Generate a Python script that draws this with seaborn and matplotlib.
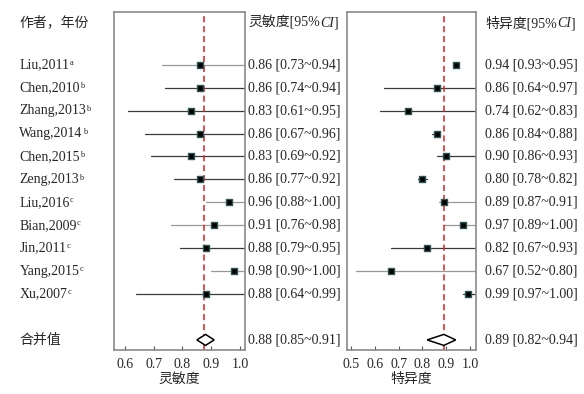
import matplotlib
matplotlib.use("Agg")
import matplotlib.pyplot as plt
import seaborn as sns
import pandas as pd

# study labels and superscript group
studies = ["Liu,2011", "Chen,2010", "Zhang,2013", "Wang,2014", "Chen,2015", "Zeng,2013",
           "Liu,2016", "Bian,2009", "Jin,2011", "Yang,2015", "Xu,2007"]
groups = ["a", "b", "b", "b", "b", "b", "c", "c", "c", "c", "c"]

# sensitivity and 95% CI
sens = [0.86, 0.86, 0.83, 0.86, 0.83, 0.86, 0.96, 0.91, 0.88, 0.98, 0.88]
sens_lo = [0.73, 0.74, 0.61, 0.67, 0.69, 0.77, 0.88, 0.76, 0.79, 0.90, 0.64]
sens_hi = [0.94, 0.94, 0.95, 0.96, 0.92, 0.92, 1.00, 0.98, 0.95, 1.00, 0.99]
# specificity and 95% CI
spec = [0.94, 0.86, 0.74, 0.86, 0.90, 0.80, 0.89, 0.97, 0.82, 0.67, 0.99]
spec_lo = [0.93, 0.64, 0.62, 0.84, 0.86, 0.78, 0.87, 0.89, 0.67, 0.52, 0.97]
spec_hi = [0.95, 0.97, 0.83, 0.88, 0.93, 0.82, 0.91, 1.00, 0.93, 0.80, 1.00]

# line ends as drawn in the original (many run to the panel edge)
sens_line_end = [1.1] * 11
spec_line_end = [0.95, 1.1, 1.1, 0.87, 1.1, 0.82, 1.1, 1.1, 1.1, 1.1, 1.1]
sens_line_grey = [1, 0, 0, 0, 0, 0, 1, 1, 0, 1, 0]
spec_line_grey = [0, 0, 0, 0, 0, 0, 1, 1, 0, 1, 0]

# pooled estimates
pooled_sens, pooled_sens_lo, pooled_sens_hi = 0.88, 0.85, 0.91
pooled_spec, pooled_spec_lo, pooled_spec_hi = 0.89, 0.82, 0.94
ref_sens, ref_spec = 0.875, 0.89

sens_ticks = [0.6, 0.7, 0.8, 0.9, 1.0]
spec_ticks = [0.5, 0.6, 0.7, 0.8, 0.9, 1.0]

sns.set_theme(style="white")
plt.rcParams["font.family"] = ["Liberation Serif", "Noto Sans CJK SC"]

df = pd.DataFrame({"study": studies, "row": range(len(studies)),
                   "sens": sens, "sens_lo": sens_lo, "sens_hi": sens_hi,
                   "spec": spec, "spec_lo": spec_lo, "spec_hi": spec_hi,
                   "sens_end": sens_line_end, "spec_end": spec_line_end,
                   "sens_grey": sens_line_grey, "spec_grey": spec_line_grey})

fig = plt.figure(figsize=(5.84, 3.94), dpi=100)
ax1 = fig.add_axes([0.195, 0.1117, 0.2245, 0.8578])
ax2 = fig.add_axes([0.5937, 0.1117, 0.2209, 0.8578])

pooled_row = len(studies) + 1
ylim = (pooled_row + 0.44, -2.3)
FS = 10


def panel(ax, col, xlim, ticks, ref, pooled, plo, phi, xlabel):
    for _, r in df.iterrows():
        c = "#9a9a9a" if r[col + "_grey"] else "#3a3a3a"
        ax.plot([r[col + "_lo"], r[col + "_end"]], [r["row"], r["row"]], color=c, lw=0.9, zorder=1)
    sns.scatterplot(data=df, x=col, y="row", ax=ax, marker="s", s=22, color="black",
                    edgecolor="#2f5555", linewidth=1.0, zorder=3, legend=False)
    ax.axvline(ref, color="#d62020", ls=(0, (4, 2.5)), lw=1.1, zorder=2)
    h = 0.24
    ax.fill([plo, pooled, phi, pooled, plo], [pooled_row, pooled_row - h, pooled_row, pooled_row + h, pooled_row],
            facecolor="white", edgecolor="black", lw=1.1, zorder=3)
    ax.set_xlim(*xlim)
    ax.set_ylim(*ylim)
    ax.set_yticks([])
    ax.set_xticks(ticks)
    ax.set_xticklabels([f"{t:.1f}" for t in ticks], fontsize=FS)
    ax.tick_params(axis="x", direction="in", length=3, width=0.8, color="#555555", pad=6, bottom=True)
    ax.set_xlabel(xlabel, fontsize=FS, labelpad=1)
    ax.set_ylabel("")
    for s in ax.spines.values():
        s.set_color("#8a8a8a")
        s.set_linewidth(1.2)


panel(ax1, "sens", (0.562, 1.017), sens_ticks, ref_sens, pooled_sens, pooled_sens_lo, pooled_sens_hi, "灵敏度")
panel(ax2, "spec", (0.482, 1.024), spec_ticks, ref_spec, pooled_spec, pooled_spec_lo, pooled_spec_hi, "特异度")

# left column labels
tr = ax1.get_yaxis_transform()
LX = -0.72
for i, (s, g) in enumerate(zip(studies, groups)):
    t = ax1.text(LX, i, s, transform=tr, fontsize=FS, va="center", ha="left")
    ax1.annotate(g, xy=(1, 0.95), xycoords=t, va="top", ha="left", fontsize=6)
ax1.text(LX, -1.83, "作者，年份", transform=tr, fontsize=FS, va="center", ha="left")
ax1.text(LX, pooled_row, "合并值", transform=tr, fontsize=FS, va="center", ha="left")


def header(ax, x, label):
    t = ax.text(x, -1.83, label + "[95%", transform=ax.get_yaxis_transform(), fontsize=FS, va="center", ha="left")
    t2 = ax.annotate("CI", xy=(1, 0), xycoords=t, va="bottom", ha="left", fontsize=FS, style="italic")
    ax.annotate("]", xy=(1, 0), xycoords=t2, va="bottom", ha="left", fontsize=FS)


def ci_text(ax, x, est, lo, hi, pooled, plo, phi):
    trx = ax.get_yaxis_transform()
    for i, (e, l, h) in enumerate(zip(est, lo, hi)):
        ax.text(x, i, f"{e:.2f} [{l:.2f}~{h:.2f}]", transform=trx, fontsize=FS, va="center", ha="left")
    ax.text(x, pooled_row, f"{pooled:.2f} [{plo:.2f}~{phi:.2f}]", transform=trx, fontsize=FS, va="center", ha="left")


header(ax1, 1.025, "灵敏度")
ci_text(ax1, 1.025, sens, sens_lo, sens_hi, pooled_sens, pooled_sens_lo, pooled_sens_hi)
header(ax2, 1.072, "特异度")
ci_text(ax2, 1.072, spec, spec_lo, spec_hi, pooled_spec, pooled_spec_lo, pooled_spec_hi)

fig.savefig("out.png", dpi=100)
